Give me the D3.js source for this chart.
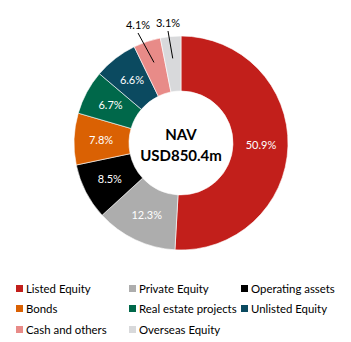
<!DOCTYPE html>
<html><head><meta charset="utf-8">
<script src="https://cdn.jsdelivr.net/npm/d3@7"></script>
<style>body{margin:0;background:#fff;}svg{display:block;}</style>
</head><body>
<svg id="c" width="351" height="342"></svg>
<script>
const categories = ["Listed Equity","Private Equity","Operating assets","Bonds","Real estate projects","Unlisted Equity","Cash and others","Overseas Equity"];
const values = [50.9,12.3,8.5,7.8,6.7,6.6,4.1,3.1];
const colors = ["#C21F1B","#ADADAD","#000000","#DA6103","#00684A","#0B4A60","#E88B88","#D8D9DB"];
const labelColors = ["#fff","#fff","#fff","#fff","#fff","#fff","#000","#000"];
const centerLines = ["NAV","USD850.4m"];

const svg = d3.select("#c");
const font = "Lato, 'Open Sans', sans-serif";
const cx = 181, cy = 143, R = 107, r = 52;
const g = svg.append("g").attr("transform",`translate(${cx},${cy})`);
const pie = d3.pie().sort(null).value(d=>d);
const arcs = pie(values);
const arc = d3.arc().innerRadius(r).outerRadius(R);
const labelArc = d3.arc().innerRadius(80).outerRadius(80);
g.selectAll("path").data(arcs).enter().append("path")
  .attr("d",arc).attr("fill",(d,i)=>colors[i]).attr("stroke","#fff").attr("stroke-width",0.6);

arcs.forEach((a,i)=>{
  const fmt = values[i].toFixed(1)+"%";
  if (values[i] >= 5) {
    const [x,y] = labelArc.centroid(a);
    g.append("text").attr("x",x).attr("y",y).attr("dy","0.35em")
      .attr("text-anchor","middle").attr("fill",labelColors[i])
      .style("font-family",font).style("font-size","11px").text(fmt);
  } else {
    const pIn = d3.arc().innerRadius(85).outerRadius(85).centroid(a);
    const ext = i===6 ? [-43,-110] : [-13,-112];
    g.append("line").attr("x1",pIn[0]).attr("y1",pIn[1]).attr("x2",ext[0]).attr("y2",ext[1])
      .attr("stroke","#000").attr("stroke-width",1);
    g.append("text").attr("x",ext[0]).attr("y",ext[1]-4)
      .attr("text-anchor","middle").attr("fill","#000")
      .style("font-family",font).style("font-size","11px").text(fmt);
  }
});

g.append("text").attr("x",0).attr("y",-3).attr("text-anchor","middle")
  .style("font-family",font).style("font-weight","bold").style("font-size","15px").text(centerLines[0]);
g.append("text").attr("x",0).attr("y",18).attr("text-anchor","middle")
  .style("font-family",font).style("font-weight","bold").style("font-size","15px").text(centerLines[1]);

const colX = [16,129,241], rowY = [289,309,330];
categories.forEach((c,i)=>{
  const x = colX[i%3], y = rowY[Math.floor(i/3)];
  svg.append("rect").attr("x",x).attr("y",y-4).attr("width",7).attr("height",7).attr("fill",colors[i]);
  svg.append("text").attr("x",x+10).attr("y",y).attr("dy","0.35em")
    .style("font-family",font).style("font-size","11.4px").attr("fill","#000").text(c);
});
</script>
</body></html>
